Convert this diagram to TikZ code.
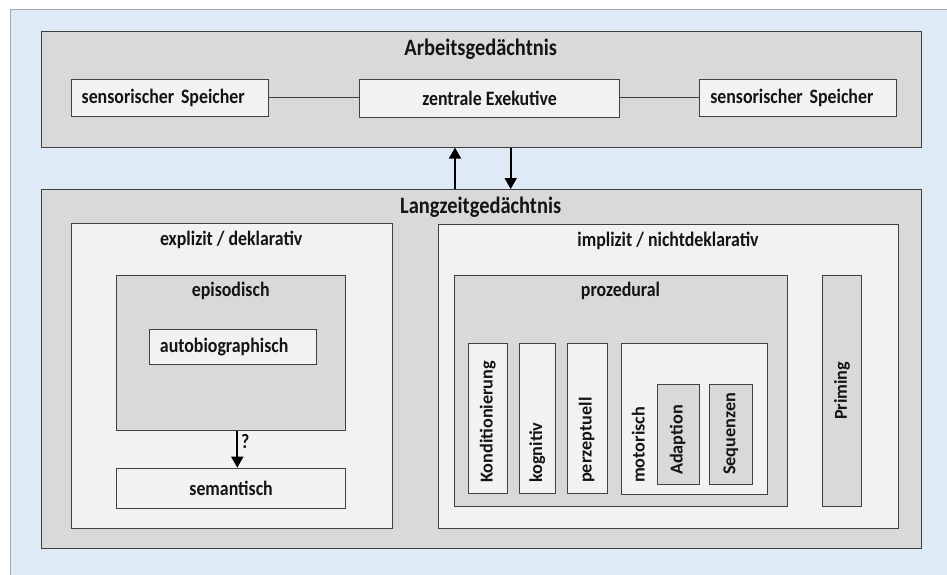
\documentclass[tikz,border=0pt]{standalone}
\usepackage{fontspec}
\setmainfont{Carlito}[FakeStretch=0.87]
\newfontfamily\vfont{Carlito}
\usetikzlibrary{arrows.meta}
\definecolor{bgblue}{HTML}{DEEAF6}
\definecolor{boxgray}{HTML}{D9D9D9}
\definecolor{boxwhite}{HTML}{F2F2F2}
\definecolor{bord}{HTML}{404040}
\definecolor{framec}{HTML}{A0A8B0}
\definecolor{txt}{HTML}{141414}
\begin{document}
\begin{tikzpicture}[x=1pt,y=-1pt,
  gbox/.style={draw=bord, fill=boxgray, line width=0.9pt, inner sep=0pt, anchor=north west},
  wbox/.style={draw=bord, fill=boxwhite, line width=0.9pt, inner sep=0pt, anchor=north west},
  lbl/.style={font=\bfseries\fontsize{20.5}{23}\selectfont, text=txt},
  ttl/.style={font=\bfseries\fontsize{23.5}{26}\selectfont, text=txt, inner sep=0pt},
  vlbl/.style={font=\vfont\bfseries\fontsize{18.2}{21}\selectfont, text=txt, rotate=90, inner sep=0pt, anchor=west},
  leftbox/.style={align=left, inner xsep=10.5pt},
  arr/.style={line width=1.8pt, draw=black, -{Triangle[width=12pt,length=11pt]}},
  conn/.style={draw=bord, line width=0.9pt}]
\useasboundingbox (0,0) rectangle (947,575);
\clip (0,0) rectangle (947,575);
\fill[white] (0,0) rectangle (947,575);
\draw[framec, fill=bgblue, line width=0.8pt] (10,9) rectangle (955,585);

% Arbeitsgedaechtnis
\node[gbox, minimum width=880, minimum height=116] (ag) at (40.7,30.7) {};
\node[ttl] (agt) at (480.7,49) {Arbeitsgedächtnis};
\node[wbox, lbl, leftbox, text width=176.6, minimum height=37] (s1) at (70.7,78.7) {sensorischer Speicher};
\node[wbox, lbl, minimum width=260.3, minimum height=38] (ze) at (359,78.7) {zentrale Exekutive};
\node[wbox, lbl, leftbox, text width=175.4, minimum height=37] (s2) at (699.3,78.7) {sensorischer Speicher};
\draw[conn] (s1.east) -- (s1.east -| ze.west);
\draw[conn] (s2.west -| ze.east) -- (s2.west);

% Langzeitgedaechtnis
\node[gbox, minimum width=880, minimum height=358.7] (lz) at (40.7,189) {};
\node[ttl] (lzt) at (480.7,207.3) {Langzeitgedächtnis};
\coordinate (upx) at (455,0);
\coordinate (dnx) at (510.7,0);
\draw[arr] (lz.north -| upx) -- (ag.south -| upx);
\draw[arr] (ag.south -| dnx) -- (lz.north -| dnx);

% explizit
\node[wbox, minimum width=321, minimum height=304.4] (ex) at (70.7,223.3) {};
\node[lbl, inner sep=0pt] (ext) at (231.2,240) {explizit / deklarativ};
\node[gbox, minimum width=229.3, minimum height=155] (ep) at (116,275) {};
\node[lbl, inner sep=0pt] (ept) at (230.7,291) {episodisch};
\node[wbox, lbl, leftbox, text width=145.7, minimum height=35.3] (ab) at (149,328.7) {autobiographisch};
\node[wbox, lbl, minimum width=229.3, minimum height=40] (se) at (116,467.7) {semantisch};
\coordinate (epx) at (237.3,0);
\draw[arr] (ep.south -| epx) -- (se.north -| epx);
\node[lbl, inner sep=0pt, anchor=west] (q) at (241,441) {?};

% implizit
\node[wbox, minimum width=460, minimum height=303.4] (im) at (438,224.3) {};
\node[lbl, inner sep=0pt] (imt) at (668,241) {implizit / nichtdeklarativ};
\node[gbox, minimum width=332.4, minimum height=230.7] (pz) at (454.3,275) {};
\node[lbl, inner sep=0pt] (pzt) at (620.5,291) {prozedural};
\node[wbox, minimum width=38.7, minimum height=150.3] (ko) at (468.3,343) {};
\node[vlbl] (kot) at (487.7,483) {Konditionierung};
\node[wbox, minimum width=36, minimum height=150.3] (kg) at (519.3,343) {};
\node[vlbl] (kgt) at (537.3,483) {kognitiv};
\node[wbox, minimum width=40, minimum height=150.3] (pe) at (566.7,343) {};
\node[vlbl] (pet) at (586.7,483) {perzeptuell};
\node[wbox, minimum width=146, minimum height=151.3] (mo) at (621.3,343) {};
\node[vlbl] (mot) at (638.3,483) {motorisch};
\node[gbox, minimum width=42, minimum height=100.3] (ad) at (656.7,384) {};
\node[vlbl] (adt) at (677.7,475) {Adaption};
\node[gbox, minimum width=43, minimum height=100.3] (sq) at (709.3,384) {};
\node[vlbl] (sqt) at (730.8,475) {Sequenzen};
\node[gbox, minimum width=39.6, minimum height=230.7] (pr) at (821.7,275) {};
\node[font=\vfont\bfseries\fontsize{18.2}{21}\selectfont, text=txt, rotate=90, inner sep=0pt] (prt) at (pr.center) {Priming};
\end{tikzpicture}
\end{document}
